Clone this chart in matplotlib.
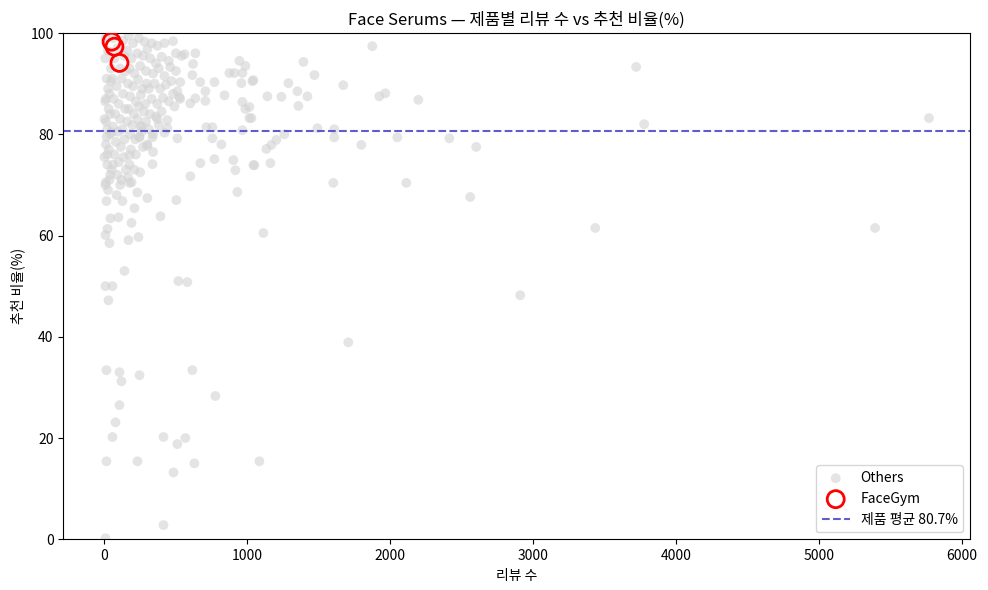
import matplotlib.pyplot as plt

plt.rcParams['font.family'] = ['Noto Sans CJK KR', 'DejaVu Sans']
plt.rcParams['axes.unicode_minus'] = False

# dense group of products with few reviews (x = review count, y = recommend %)
cluster_reviews = [
    5, 15, 25, 10, 30, 0, 20, 40, 10, 30, 0, 20, 40, 10, 25, 15, 35, 5, 45, 25, 8, 40, 20, 50, 35, 12, 45,
    60, 90, 130, 70, 110, 140, 55, 85, 120, 150, 65, 100, 130, 75, 110, 145, 60, 95, 125, 80, 115, 140,
    70, 100, 135, 90, 120, 150, 60, 85, 110,
    170, 200, 240, 280, 160, 190, 230, 270, 300, 175, 210, 250, 290, 165, 200, 235, 265, 295, 180, 220,
    255, 285, 170, 205, 240, 275, 160, 195, 230, 260, 290, 180, 215, 245, 185, 220, 270, 175, 210, 250,
    190, 165, 230, 260,
    330, 370, 420, 480, 320, 360, 400, 450, 500, 540, 340, 380, 420, 460, 500, 310, 350, 390, 430, 470,
    510, 330, 370, 410, 450, 490, 320, 360, 400, 440, 310, 340, 380, 420, 300, 340, 370, 480, 530,
]
cluster_pct = [
    95, 91, 89, 87, 85, 83, 81, 80, 78, 77, 75.5, 74, 72, 70.5, 69, 79.5, 88, 86.5, 93, 96.5, 99, 84, 76, 73, 71, 82.5, 90.5,
    99, 97, 98.5, 95, 93, 95.5, 91, 89.5, 91, 92.5, 87, 86, 88, 84, 83, 85, 81.5, 80.5, 81, 78.5, 77.5, 79,
    76, 74.5, 75.5, 72, 71, 73, 74, 68, 70,
    99.5, 98, 99, 98.3, 96.5, 95, 96, 95.5, 96.8, 93, 92, 93.5, 92.5, 90, 89.5, 90.8, 89, 90, 87.5, 86.5,
    87.8, 86, 85, 84, 85.5, 84.5, 82.5, 81.8, 83, 81.5, 82.5, 80, 79, 79.5, 77, 76, 77.5, 74, 73, 72.5,
    70.5, 71.5, 68.5, 80.5,
    98, 97.5, 98, 98.4, 95, 94, 95.3, 94.5, 96, 95.5, 92, 93, 91.5, 93.3, 92.5, 89, 90, 89, 89.8, 90.5,
    88.5, 87, 86, 87.2, 86.5, 85.5, 84, 83.5, 84.5, 82.8, 81, 80, 81.8, 80.3, 78, 76.5, 83, 88, 87,
]

# scattered products
spread_reviews = [
    560, 636, 620, 615, 530, 670, 770, 706, 840, 636, 600, 524, 944, 986, 874, 909, 965, 958, 1035, 965,
    986, 1014, 706, 713, 755, 965, 440, 252, 336, 510, 755, 818, 300, 245, 49, 671, 769, 902, 916, 601,
    336, 175, 175, 7, 930, 1049,
    14, 126, 300, 503, 210, 42, 98, 189, 392, 21, 7, 35, 168, 238, 140, 7, 56, 517, 580, 28,
    14, 105, 119, 245, 615, 776, 105, 77, 56, 413, 566, 510, 14, 231, 629, 483, 413, 7, 1084,
    1874, 1392, 1469, 1671, 1287, 1042, 1350, 1420, 1140, 1238, 1357, 1923, 1965, 2196, 1014, 1028,
    1490, 1608, 1608, 1259, 1203, 1168, 1133, 1797, 2049, 2413, 2601, 1042, 1161, 1601, 2112, 2559,
    1112, 1706, 3720, 3776, 5769, 3434, 5392, 2909,
]
spread_pct = [
    95.8, 96, 93.9, 91.7, 90.3, 90.3, 90.3, 88.5, 87.7, 87.1, 86.1, 87.3, 94.5, 93.5, 92.1, 92.1, 92.1, 90.1, 90.5, 86.4,
    85, 83.2, 86.6, 81.4, 81.4, 80.8, 81.2, 81.6, 79.4, 79.2, 79.2, 78, 77.7, 79.4, 80.4, 74.3, 75.1, 74.9, 72.9, 71.7,
    74.1, 75.9, 70.4, 70, 68.6, 73.9,
    66.8, 66.8, 67.4, 67, 65.4, 63.4, 63.6, 62.5, 63.8, 61.3, 60.1, 58.5, 59.1, 59.7, 53, 50, 50, 51, 50.8, 47.2,
    33.4, 33, 31.2, 32.4, 33.4, 28.3, 26.5, 23.1, 20.2, 20.2, 20, 18.8, 15.4, 15.4, 15, 13.2, 2.8, 0.2, 15.4,
    97.4, 94.3, 91.7, 89.7, 90.1, 90.7, 88.5, 87.5, 87.5, 87.4, 85.6, 87.5, 88.1, 86.8, 85.4, 83.2,
    81.2, 81, 79.4, 80, 78.9, 77.9, 77.1, 77.9, 79.4, 79.2, 77.5, 73.9, 74.3, 70.4, 70.4, 67.6,
    60.5, 38.9, 93.3, 82, 83.2, 61.5, 61.5, 48.2,
]

# highlighted brand
facegym_reviews = [50, 70, 105]
facegym_pct = [98.3, 97.3, 94.1]

avg_pct = 80.7

others_x = cluster_reviews + spread_reviews
others_y = cluster_pct + spread_pct

fig, ax = plt.subplots(figsize=(9.88, 5.9), dpi=100)

ax.scatter(others_x, others_y, s=50, color='lightgray', alpha=0.6,
           edgecolors='none', label='Others')
ax.scatter(facegym_reviews, facegym_pct, s=150, facecolors='none',
           edgecolors='red', linewidths=2, label='FaceGym', zorder=3)
ax.axhline(avg_pct, color='#4b4bc8', linestyle='--', linewidth=1.5,
           alpha=0.9, label=f'제품 평균 {avg_pct}%')

ax.set_ylim(0, 100)
ax.set_xlabel('리뷰 수')
ax.set_ylabel('추천 비율(%)')
ax.set_title('Face Serums — 제품별 리뷰 수 vs 추천 비율(%)')
ax.legend(loc='lower right')

fig.subplots_adjust(left=0.064, right=0.982, top=0.944, bottom=0.086)
plt.savefig('out.png', dpi=100)
